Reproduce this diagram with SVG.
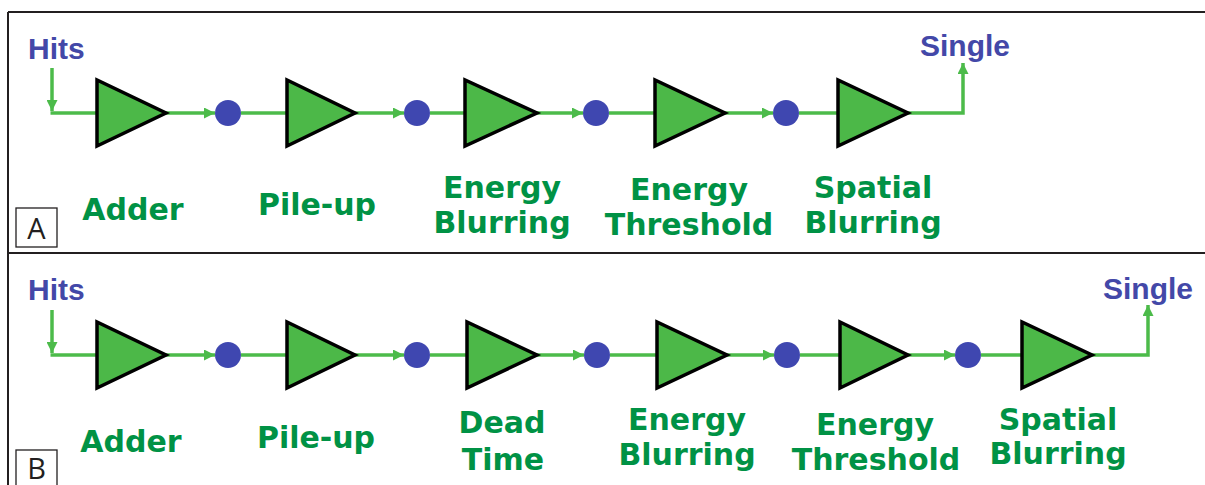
<svg xmlns="http://www.w3.org/2000/svg" width="1205" height="485" viewBox="0 0 1205 485">
<defs>
<style>
.frame{stroke:#231f20;stroke-width:2;fill:none}
.tag{fill:#fff;stroke:#231f20;stroke-width:1.3}
.tagt{font-family:"Open Sans","Liberation Sans",sans-serif;font-size:29px;fill:#231f20;text-anchor:middle}
.wire{fill:none;stroke:#4cbb4a;stroke-width:3.5}
.tri{fill:#4cb848;stroke:#000;stroke-width:3.5;stroke-linejoin:miter}
.dot{fill:#3f47b0}
.io{font-family:"Liberation Sans",Arial,sans-serif;font-weight:bold;font-size:30px;fill:#4348a8}
.lbl{font-family:"DejaVu Sans",sans-serif;font-weight:bold;font-size:30px;fill:#009245;text-anchor:middle}
</style>
<marker id="ah" markerUnits="userSpaceOnUse" markerWidth="11" markerHeight="11" refX="10" refY="5" orient="auto" viewBox="0 0 10 10">
<path d="M0,0 L10,5 L0,10 z" fill="#4cbb4a"/>
</marker>
</defs>
<rect width="1205" height="485" fill="#fff"/>
<g id="frame">
<path class="frame" d="M8,12 H1205 M8,12 V485 M8,253 H1205"/>
</g>
<g id="tagA"><rect class="tag" x="16" y="208" width="41" height="39"/><text class="tagt" x="36.5" y="239">A</text></g>
<g id="tagB"><rect class="tag" x="16" y="450" width="41" height="40"/><text class="tagt" x="36.5" y="479">B</text></g>

<g id="connectors">
<!-- Panel A -->
<path class="wire" d="M52,68 V111" marker-end="url(#ah)"/>
<path class="wire" d="M50.5,113 H97"/>
<path class="wire" d="M166,113 H215" marker-end="url(#ah)"/>
<path class="wire" d="M241,113 H287"/>
<path class="wire" d="M355,113 H404" marker-end="url(#ah)"/>
<path class="wire" d="M430,113 H465"/>
<path class="wire" d="M537,113 H583" marker-end="url(#ah)"/>
<path class="wire" d="M609,113 H655"/>
<path class="wire" d="M725,113 H773" marker-end="url(#ah)"/>
<path class="wire" d="M799,113 H838"/>
<path class="wire" d="M908,113 H963 V63" marker-end="url(#ah)"/>
<!-- Panel B -->
<path class="wire" d="M52,310 V353" marker-end="url(#ah)"/>
<path class="wire" d="M50.5,355 H97"/>
<path class="wire" d="M166,355 H215" marker-end="url(#ah)"/>
<path class="wire" d="M241,355 H287"/>
<path class="wire" d="M355,355 H404" marker-end="url(#ah)"/>
<path class="wire" d="M430,355 H467"/>
<path class="wire" d="M537,355 H584" marker-end="url(#ah)"/>
<path class="wire" d="M610,355 H657"/>
<path class="wire" d="M727,355 H774" marker-end="url(#ah)"/>
<path class="wire" d="M800,355 H840"/>
<path class="wire" d="M908,355 H955" marker-end="url(#ah)"/>
<path class="wire" d="M981,355 H1022"/>
<path class="wire" d="M1092,355 H1148 V305" marker-end="url(#ah)"/>
</g>

<g id="A-hits"><text class="io" x="28" y="59">Hits</text></g>
<g id="A-adder"><polygon class="tri" points="97,80 97,146 166,113"/><text class="lbl" x="133" y="220">Adder</text></g>
<g id="A-d1"><circle class="dot" cx="228" cy="113" r="13"/></g>
<g id="A-pileup"><polygon class="tri" points="287,80 287,146 355,113"/><text class="lbl" x="317" y="215">Pile-up</text></g>
<g id="A-d2"><circle class="dot" cx="417" cy="113" r="13"/></g>
<g id="A-eblur"><polygon class="tri" points="465,80 465,146 537,113"/><text class="lbl" x="502" y="198">Energy</text><text class="lbl" x="502" y="233">Blurring</text></g>
<g id="A-d3"><circle class="dot" cx="596" cy="113" r="13"/></g>
<g id="A-ethr"><polygon class="tri" points="655,80 655,146 725,113"/><text class="lbl" x="689" y="200">Energy</text><text class="lbl" x="689" y="235">Threshold</text></g>
<g id="A-d4"><circle class="dot" cx="786" cy="113" r="13"/></g>
<g id="A-sblur"><polygon class="tri" points="838,80 838,146 908,113"/><text class="lbl" x="873" y="198">Spatial</text><text class="lbl" x="873" y="233">Blurring</text></g>
<g id="A-single"><text class="io" x="920" y="56">Single</text></g>

<g id="B-hits"><text class="io" x="28" y="300">Hits</text></g>
<g id="B-adder"><polygon class="tri" points="97,322 97,388 166,355"/><text class="lbl" x="131" y="452">Adder</text></g>
<g id="B-d1"><circle class="dot" cx="228" cy="355" r="13"/></g>
<g id="B-pileup"><polygon class="tri" points="287,322 287,388 355,355"/><text class="lbl" x="316" y="448">Pile-up</text></g>
<g id="B-d2"><circle class="dot" cx="417" cy="355" r="13"/></g>
<g id="B-dead"><polygon class="tri" points="467,322 467,388 537,355"/><text class="lbl" x="502" y="433">Dead</text><text class="lbl" x="503" y="470">Time</text></g>
<g id="B-d3"><circle class="dot" cx="597" cy="355" r="13"/></g>
<g id="B-eblur"><polygon class="tri" points="657,322 657,388 727,355"/><text class="lbl" x="687" y="430">Energy</text><text class="lbl" x="687" y="465">Blurring</text></g>
<g id="B-d4"><circle class="dot" cx="787" cy="355" r="13"/></g>
<g id="B-ethr"><polygon class="tri" points="840,322 840,388 908,355"/><text class="lbl" x="875" y="435">Energy</text><text class="lbl" x="876" y="470">Threshold</text></g>
<g id="B-d5"><circle class="dot" cx="968" cy="355" r="13"/></g>
<g id="B-sblur"><polygon class="tri" points="1022,322 1022,388 1092,355"/><text class="lbl" x="1058" y="430">Spatial</text><text class="lbl" x="1058" y="464">Blurring</text></g>
<g id="B-single"><text class="io" x="1103" y="299">Single</text></g>
</svg>
